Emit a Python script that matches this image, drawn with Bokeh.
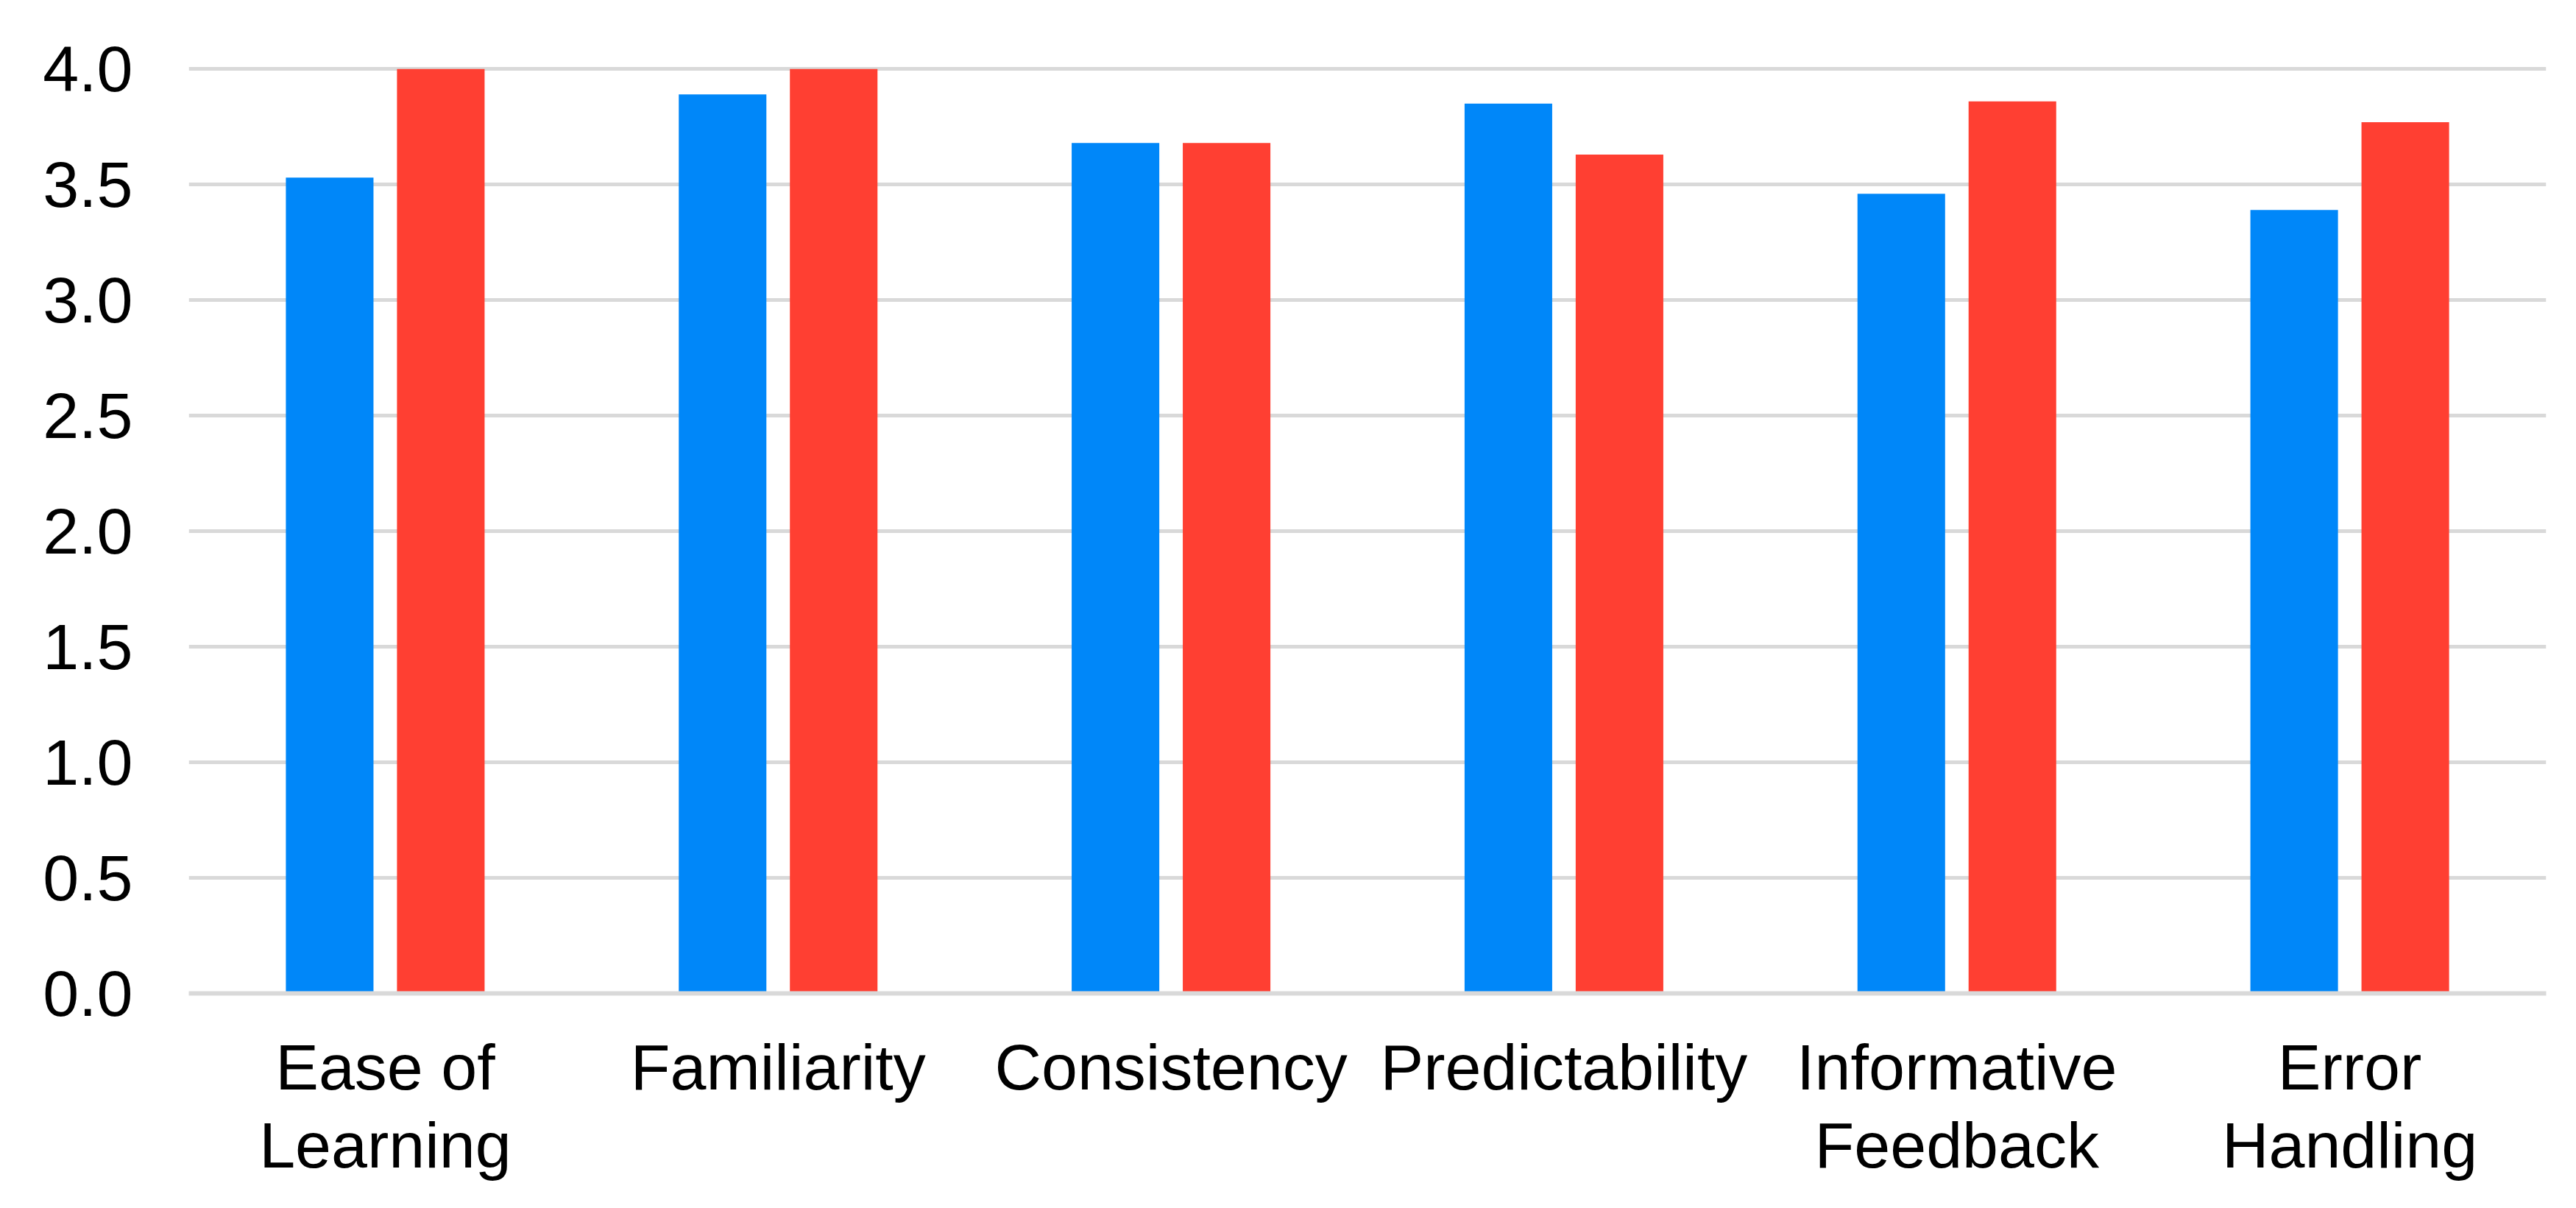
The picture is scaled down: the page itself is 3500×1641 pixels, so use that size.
from bokeh.plotting import figure
from bokeh.models import FactorRange, ColumnDataSource, Range1d, FixedTicker, CategoricalAxis
from bokeh.transform import dodge
from bokeh.embed import file_html
from bokeh.resources import INLINE

categories = ["Ease of Learning", "Familiarity", "Consistency", "Predictability",
              "Informative Feedback", "Error Handling"]
label_line1 = ["Ease of", "Familiarity", "Consistency", "Predictability",
               "Informative", "Error"]
label_line2 = ["Learning", "", "", "", "Feedback", "Handling"]
series_blue = [3.53, 3.89, 3.68, 3.85, 3.46, 3.39]
series_red = [4.00, 4.00, 3.68, 3.63, 3.86, 3.77]
y_ticks = [0.0, 0.5, 1.0, 1.5, 2.0, 2.5, 3.0, 3.5, 4.0]
y_tick_labels = ["0.0", "0.5", "1.0", "1.5", "2.0", "2.5", "3.0", "3.5", "4.0"]

BLUE = "#0087F9"
RED = "#FF3F32"
GRID = "#D9D9D9"
FONT = "Liberation Sans"
FS = "88px"

src = ColumnDataSource(dict(cat=categories, blue=series_blue, red=series_red))

p = figure(x_range=FactorRange(*categories), y_range=Range1d(0, 4.02),
           width=3484, height=1625, output_backend="svg", toolbar_location=None,
           min_border_left=256, min_border_right=25, min_border_top=87,
           min_border_bottom=276)

# factor ranges used only to print the two lines of each category label
line2_factors = [s if s else " " * (i + 1) for i, s in enumerate(label_line2)]
p.extra_x_ranges = {"line1": FactorRange(*label_line1),
                    "line2": FactorRange(*line2_factors)}

p.vbar(x=dodge("cat", -0.1414, range=p.x_range), top="blue", width=0.223,
       source=src, fill_color=BLUE, line_color=None)
p.vbar(x=dodge("cat", 0.1414, range=p.x_range), top="red", width=0.223,
       source=src, fill_color=RED, line_color=None)

p.outline_line_color = None
p.background_fill_color = "white"
p.border_fill_color = "white"

p.xgrid.grid_line_color = None
p.ygrid.grid_line_color = GRID
p.ygrid.grid_line_width = 5
p.ygrid.ticker = FixedTicker(ticks=y_ticks)

p.yaxis.ticker = FixedTicker(ticks=y_ticks)
p.yaxis.major_label_overrides = {t: s for t, s in zip(y_ticks, y_tick_labels)}
p.yaxis.axis_line_color = None
p.yaxis.major_tick_line_color = None
p.yaxis.minor_tick_line_color = None
p.yaxis.major_tick_out = 0
p.yaxis.major_tick_in = 0
p.yaxis.major_label_standoff = 76
p.yaxis.major_label_text_font = FONT
p.yaxis.major_label_text_font_size = FS
p.yaxis.major_label_text_color = "black"

xa = p.xaxis[0]
xa.axis_line_color = GRID
xa.axis_line_width = 6
xa.major_tick_line_color = None
xa.minor_tick_line_color = None
xa.major_tick_out = 0
xa.major_tick_in = 0
xa.major_label_standoff = 0
xa.major_label_text_font_size = "0px"
xa.major_label_text_color = None


def label_axis(rng, standoff):
    return CategoricalAxis(x_range_name=rng, axis_line_color=None,
                           major_tick_line_color=None, minor_tick_line_color=None,
                           major_tick_out=0, major_tick_in=0,
                           major_label_standoff=standoff,
                           major_label_text_font=FONT, major_label_text_font_size=FS,
                           major_label_text_color="black")


p.add_layout(label_axis("line1", 50), "below")
p.add_layout(label_axis("line2", 4), "below")

open("out.html", "w").write(file_html(p, INLINE))
